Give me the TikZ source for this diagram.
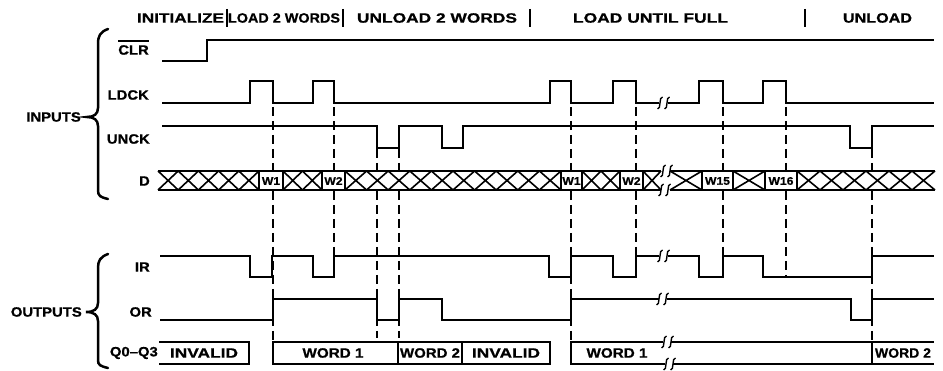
\documentclass[tikz,border=0pt]{standalone}
\usepackage{fontspec}
\usepackage{graphicx}
\newfontfamily\lab[FakeStretch=1.1,FakeBold=0.8]{Liberation Sans}
\newcommand\brkmark[2]{\draw[brk] ({#1-2.5},{#2+6}) .. controls ({#1+1.5},{#2+6}) and ({#1-1.5},{#2-6}) .. ({#1+2.5},{#2-6});}
\newcommand\xcells[3]{\pgfmathsetmacro\xcw{(#2-#1)/#3}\foreach \i in {1,...,#3}{\draw[bus] ({#1+(\i-1)*\xcw},171) -- ({#1+\i*\xcw},190) ({#1+(\i-1)*\xcw},190) -- ({#1+\i*\xcw},171);}}
\newcommand\fitw[2]{\resizebox{#1pt}{\height}{#2}}
\begin{document}
\begin{tikzpicture}[x=1pt,y=-1pt,
  sig/.style={line width=1.6pt, line join=miter},
  bus/.style={line width=1.6pt},
  brk/.style={line width=1.4pt},
  dsh/.style={line width=1.1pt, dash pattern=on 9pt off 5pt},
  hdr/.style={font=\lab\bfseries\fontsize{13.5}{16}\selectfont, inner sep=0pt},
  lbl/.style={font=\lab\bfseries\fontsize{13.5}{15}\selectfont, inner sep=0pt},
  btxt/.style={font=\lab\bfseries\fontsize{13.5}{15}\selectfont, inner sep=0pt},
  wtxt/.style={font=\lab\bfseries\fontsize{11}{12}\selectfont, inner sep=0pt},
  brace/.style={line width=2.5pt, line cap=round}]
\useasboundingbox (0,0) rectangle (943,371);
% header
\node[hdr] (h1) at (180.5,18) {\fitw{87}{INITIALIZE}};
\node[hdr] (h2) at (284,18) {\fitw{112}{LOAD 2 WORDS}};
\node[hdr] (h3) at (437,18) {\fitw{160}{UNLOAD 2 WORDS}};
\node[hdr] (h4) at (650.5,18) {\fitw{155}{LOAD UNTIL FULL}};
\node[hdr] (h5) at (877.5,18) {\fitw{69}{UNLOAD}};
\foreach \bx in {227,343,530,805}{\draw[line width=1.6pt] (\bx,9) -- (\bx,27);}
% left labels
\node[lbl, anchor=east] (inputs) at (81,117) {INPUTS};
\node[lbl, anchor=east] (outputs) at (82,312) {OUTPUTS};
\node[lbl, anchor=east] (clr) at (149,50) {CLR};
\draw[line width=1.2pt] ([yshift=4pt]clr.north west) -- ([yshift=4pt]clr.north east);
\node[lbl, anchor=east] (ldck) at (149,95) {LDCK};
\node[lbl, anchor=east] (unck) at (150,139) {UNCK};
\node[lbl, anchor=east] (d) at (150,181) {D};
\node[lbl, anchor=east] (ir) at (150,267) {IR};
\node[lbl, anchor=east] (or) at (152,312) {OR};
\node[lbl, anchor=east] (q) at (158,353) {Q0–Q3};
% braces
\draw[brace] (108,29) .. controls (100,32) and (98,36) .. (98,44) -- (98,108) .. controls (98,114) and (94,117) .. (87,117) .. controls (94,117) and (98,120) .. (98,126) -- (98,190) .. controls (98,196) and (100,197) .. (108,199);
\draw[brace] (108,254) .. controls (100,257) and (98,261) .. (98,268) -- (98,303) .. controls (98,309) and (94,312) .. (86,312) .. controls (94,312) and (98,315) .. (98,321) -- (98,360) .. controls (98,365) and (100,366) .. (108,368);
% dashed timing lines
\foreach \dx/\ya/\yb in {273/107/340, 334/107/256, 377/149/338, 399/149/338, 571/107/340, 636/107/256, 723/107/256, 786/107/277, 872/149/340}{\draw[dsh] (\dx,\ya) -- (\dx,\yb);}
% CLR
\draw[sig] (162,61) -- (207,61) -- (207,40) -- (934,40);
% LDCK
\draw[sig] (162,103) -- (250,103) -- (250,81) -- (273,81) -- (273,103) -- (313,103) -- (313,81) -- (334,81) -- (334,103) -- (550,103) -- (550,81) -- (571,81) -- (571,103) -- (613,103) -- (613,81) -- (636,81) -- (636,103) -- (659,103);
\draw[sig] (668,103) -- (699,103) -- (699,81) -- (723,81) -- (723,103) -- (763,103) -- (763,81) -- (786,81) -- (786,103) -- (934,103);
\brkmark{660}{103}\brkmark{667}{103}
% UNCK
\draw[sig] (162,126) -- (377,126) -- (377,148) -- (399,148) -- (399,126) -- (442,126) -- (442,148) -- (463,148) -- (463,126) -- (850,126) -- (850,148) -- (872,148) -- (872,126) -- (934,126);
% D bus
\fill[white] (158,171) rectangle (935,190);
\draw[bus] (158,171) -- (661,171) (670,171) -- (935,171);
\draw[bus] (158,190) -- (661,190) (670,190) -- (935,190);
\xcells{158}{259}{5}
\xcells{283}{322}{2}
\xcells{345}{561}{10}
\xcells{582}{620}{2}
\xcells{643}{661}{1}
\xcells{670}{702}{1}
\xcells{733}{765}{1}
\xcells{797}{935}{6}
\foreach \wa/\wb in {259/283,322/345,561/582,620/643,702/733,765/797}{\draw[bus,fill=white] (\wa,171) rectangle (\wb,190);}
\node[wtxt] (w1a) at (271,181) {W1};
\node[wtxt] (w2a) at (333.5,181) {W2};
\node[wtxt] (w1b) at (571.5,181) {W1};
\node[wtxt] (w2b) at (631.5,181) {W2};
\node[wtxt] (w15) at (717.5,181) {W15};
\node[wtxt] (w16) at (781,181) {W16};
\brkmark{663}{171}\brkmark{670}{171}\brkmark{661}{190}\brkmark{668}{190}
% IR
\draw[sig] (160,256) -- (250,256) -- (250,277) -- (272,277) -- (272,256) -- (313,256) -- (313,277) -- (334,277) -- (334,256) -- (549,256) -- (549,277) -- (571,277) -- (571,256) -- (613,256) -- (613,277) -- (636,277) -- (636,256) -- (659,256);
\draw[sig] (668,256) -- (699,256) -- (699,277) -- (723,277) -- (723,256) -- (763,256) -- (763,277) -- (872,277) -- (872,256) -- (934,256);
\brkmark{660}{256}\brkmark{667}{256}
% OR
\draw[sig] (160,320) -- (273,320) -- (273,299) -- (377,299) -- (377,320) -- (399,320) -- (399,299) -- (442,299) -- (442,320) -- (571,320) -- (571,299) -- (659,299);
\draw[sig] (667,299) -- (851,299) -- (851,320) -- (872,320) -- (872,299) -- (934,299);
\brkmark{659}{299}\brkmark{666}{299}
% Q0-Q3
\draw[sig] (159,342) -- (249,342) -- (249,364) -- (159,364);
\draw[sig] (273,342) rectangle (398,364);
\draw[sig] (398,342) rectangle (462,364);
\draw[sig] (462,342) rectangle (550,364);
\draw[sig] (663,342) -- (571,342) -- (571,364) -- (665,364);
\draw[sig] (671,342) -- (934,342) (673,364) -- (934,364) (872,342) -- (872,364);
\brkmark{664}{342}\brkmark{671}{342}\brkmark{666}{364}\brkmark{673}{364}
\node[btxt] (inv1) at (204,353) {\fitw{68}{INVALID}};
\node[btxt] (wd1a) at (333,353) {\fitw{61}{WORD 1}};
\node[btxt] (wd2a) at (430,353) {\fitw{60}{WORD 2}};
\node[btxt] (inv2) at (506,353) {\fitw{68}{INVALID}};
\node[btxt] (wd1b) at (617,353) {\fitw{61}{WORD 1}};
\node[btxt] (wd2b) at (903,353) {\fitw{56}{WORD 2}};
\end{tikzpicture}
\end{document}
